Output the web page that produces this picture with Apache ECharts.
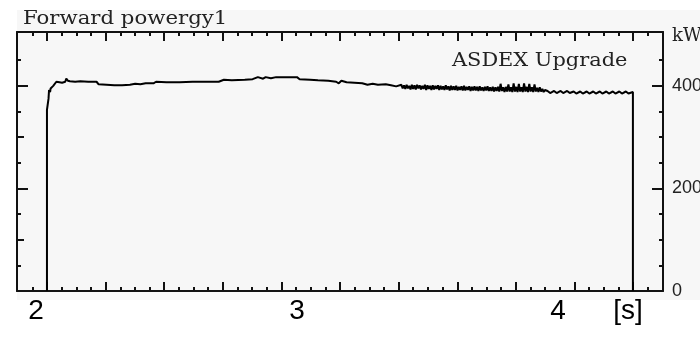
<!DOCTYPE html>
<html>
<head>
<meta charset="utf-8">
<script src="https://cdn.jsdelivr.net/npm/echarts@6/dist/echarts.min.js"></script>
<style>
  html, body { margin: 0; padding: 0; background: #fff; }
  #main { width: 700px; height: 338px; }
</style>
</head>
<body>
<div id="main"></div>
<script>
// time [s] , forward power [kW]
var riseTrace = [
  [2.042, 0], [2.042, 353], [2.047, 353], [2.048, 375], [2.050, 392], [2.054, 388],
  [2.056, 395], [2.060, 392], [2.066, 400], [2.072, 403], [2.078, 408], [2.090, 407],
  [2.100, 406], [2.112, 408], [2.116, 414], [2.122, 410], [2.130, 409], [2.150, 408],
  [2.170, 409], [2.200, 408], [2.232, 408]
];
var plateauTrace = [
  [2.240, 403], [2.270, 402], [2.300, 401], [2.330, 401], [2.360, 402], [2.380, 404],
  [2.400, 403], [2.420, 405], [2.450, 405], [2.460, 408], [2.500, 407], [2.550, 407],
  [2.600, 408], [2.650, 408], [2.700, 408], [2.720, 412], [2.750, 411], [2.800, 412],
  [2.830, 413], [2.850, 417], [2.870, 414], [2.880, 417], [2.900, 415], [2.920, 417],
  [2.950, 417], [3.000, 417], [3.010, 413], [3.050, 412], [3.080, 411], [3.120, 410],
  [3.150, 408], [3.160, 405], [3.170, 410], [3.190, 407], [3.220, 406], [3.250, 405],
  [3.270, 402], [3.290, 404], [3.310, 402], [3.340, 403], [3.360, 401], [3.380, 399]
];
var noisyTrace = [
  [3.400, 402], [3.405, 395], [3.410, 401], [3.415, 394], [3.420, 402], [3.425, 395],
  [3.430, 400], [3.435, 393], [3.440, 402], [3.445, 394], [3.450, 401], [3.455, 393],
  [3.460, 402], [3.465, 395], [3.470, 401], [3.475, 393], [3.480, 400], [3.485, 394],
  [3.490, 402], [3.495, 392], [3.500, 401], [3.505, 394], [3.510, 400], [3.515, 392],
  [3.520, 401], [3.525, 393], [3.530, 400], [3.535, 394], [3.540, 401], [3.545, 392],
  [3.550, 400], [3.555, 393], [3.560, 399], [3.565, 392], [3.570, 401], [3.575, 393],
  [3.580, 399], [3.585, 391], [3.590, 400], [3.595, 392], [3.600, 399], [3.605, 392],
  [3.610, 400], [3.615, 391], [3.620, 398], [3.625, 392], [3.630, 399], [3.635, 391],
  [3.640, 400], [3.645, 391], [3.650, 398], [3.655, 392], [3.660, 399], [3.665, 390],
  [3.670, 398], [3.675, 391], [3.680, 399], [3.685, 391], [3.690, 398], [3.695, 390],
  [3.700, 399], [3.705, 391], [3.710, 397], [3.715, 390], [3.720, 398], [3.725, 391],
  [3.730, 399], [3.735, 390], [3.740, 397], [3.745, 390], [3.750, 398], [3.755, 389],
  [3.760, 397], [3.765, 390], [3.770, 398], [3.775, 389], [3.780, 404], [3.785, 390],
  [3.790, 397], [3.795, 388], [3.800, 398], [3.805, 389], [3.810, 403], [3.815, 389],
  [3.820, 397], [3.825, 388], [3.830, 405], [3.835, 389], [3.840, 398], [3.845, 388],
  [3.850, 404], [3.855, 389], [3.860, 397], [3.865, 388], [3.870, 405], [3.875, 389],
  [3.880, 398], [3.885, 388], [3.890, 404], [3.895, 389], [3.900, 397], [3.905, 388],
  [3.910, 403], [3.915, 389], [3.920, 396], [3.925, 388], [3.930, 397], [3.935, 389],
  [3.940, 394], [3.945, 388], [3.950, 392]
];
var tailTrace = [
  [3.960, 390], [3.970, 386], [3.985, 390], [3.995, 386], [4.010, 390], [4.020, 386],
  [4.035, 390], [4.045, 386], [4.060, 389], [4.070, 385], [4.085, 389], [4.095, 385],
  [4.110, 389], [4.120, 385], [4.135, 389], [4.145, 385], [4.160, 389], [4.170, 385],
  [4.185, 389], [4.195, 385], [4.210, 389], [4.220, 385], [4.235, 389], [4.245, 385],
  [4.260, 389], [4.270, 385], [4.287, 388], [4.287, 0]
];

// axis ticks / labels
var xMajorTicks = [2.042, 2.267, 2.491, 2.716, 2.940, 3.165, 3.389, 3.614, 3.838, 4.063, 4.287];
var xLabelValues = [2, 3, 4, 4.268];
var xLabelTexts = ['2', '3', '4', '[s]'];
var yLongTicks = [200, 400];
var yMidTicks = [100, 300];
var yShortTicks = [50, 150, 250, 350, 450];
var yLabelValues = [0, 200, 400];

var xMin = 1.9272, xMax = 4.4023;
var yMin = 0, yMax = 505;

// minor ticks: quarters between major ticks (plus one on each side)
var xMinorTicks = [];
for (var i = 0; i < xMajorTicks.length - 1; i++) {
  var step = (xMajorTicks[i + 1] - xMajorTicks[i]) / 4;
  for (var k = 1; k < 4; k++) xMinorTicks.push(xMajorTicks[i] + k * step);
}
xMinorTicks.unshift(xMajorTicks[0] - 0.0561);
xMinorTicks.push(xMajorTicks[xMajorTicks.length - 1] + 0.0561);

var frameColor = '#111';
var serif = '"DejaVu Serif", "Liberation Serif", serif';

function xAxisOf(pos, ticks, len, showLine, showLabel) {
  return {
    type: 'value', min: xMin, max: xMax, position: pos,
    axisLine: { show: showLine, onZero: false, lineStyle: { color: frameColor, width: 2 } },
    axisTick: { show: true, inside: true, length: len, customValues: ticks,
      lineStyle: { color: frameColor, width: 2 } },
    axisLabel: showLabel ? {
      show: true, customValues: xLabelValues, margin: 6,
      fontFamily: '"Liberation Sans", Arial, sans-serif', fontSize: 28, color: '#000',
      formatter: function (v) {
        var idx = xLabelValues.indexOf(v);
        return idx >= 0 ? xLabelTexts[idx] : '';
      }
    } : { show: false },
    splitLine: { show: false }
  };
}

function yAxisOf(pos, ticks, len, showLine, showLabel) {
  return {
    type: 'value', min: yMin, max: yMax, position: pos,
    axisLine: { show: showLine, onZero: false, lineStyle: { color: frameColor, width: 2 } },
    axisTick: { show: true, inside: true, length: len, customValues: ticks,
      lineStyle: { color: frameColor, width: 2 } },
    axisLabel: showLabel ? {
      show: true, customValues: yLabelValues, margin: 9,
      fontFamily: '"Liberation Sans", Arial, sans-serif', fontSize: 18, color: '#222'
    } : { show: false },
    splitLine: { show: false }
  };
}

var chart = echarts.init(document.getElementById('main'));
var option = {
  backgroundColor: '#ffffff',
  animation: false,
  // labels on the right run off the picture, like the original
  grid: { left: 17, right: 37, top: 32, bottom: 47, containLabel: false, outerBoundsMode: 'none' },
  xAxis: [
    xAxisOf('bottom', xMajorTicks, 9, true, true),
    xAxisOf('bottom', xMinorTicks, 4, false, false),
    xAxisOf('top', xMajorTicks, 9, true, false),
    xAxisOf('top', xMinorTicks, 4, false, false)
  ],
  yAxis: [
    yAxisOf('right', yLongTicks, 11, true, true),
    yAxisOf('right', yMidTicks.concat(yShortTicks), 4, false, false),
    yAxisOf('left', yLongTicks, 11, true, false),
    yAxisOf('left', yMidTicks, 7, false, false),
    yAxisOf('left', yShortTicks, 4, false, false)
  ],
  graphic: {
    elements: [
      // grey panel behind the plot
      { type: 'rect', z: -10, silent: true,
        shape: { x: 17, y: 10, width: 683, height: 290 },
        style: { fill: '#f7f7f7' } },
      { type: 'text', x: 23, y: 19, scaleX: 1.18,
        style: { text: 'Forward powergy1', font: '18px ' + serif, fill: '#222',
          textAlign: 'left', textVerticalAlign: 'middle' } },
      { type: 'text', x: 452, y: 61, scaleX: 1.16,
        style: { text: 'ASDEX Upgrade', font: '18px ' + serif, fill: '#222',
          textAlign: 'left', textVerticalAlign: 'middle' } },
      { type: 'text', x: 672, y: 36,
        style: { text: 'kW', font: '18px ' + serif, fill: '#222',
          textAlign: 'left', textVerticalAlign: 'middle' } }
    ]
  },
  series: [
    {
      name: 'Forward power gy1',
      type: 'line',
      xAxisIndex: 0,
      yAxisIndex: 0,
      symbol: 'none',
      lineStyle: { color: '#000', width: 2 },
      data: riseTrace.concat(plateauTrace, noisyTrace, tailTrace)
    }
  ]
};
chart.setOption(option);
</script>
</body>
</html>
